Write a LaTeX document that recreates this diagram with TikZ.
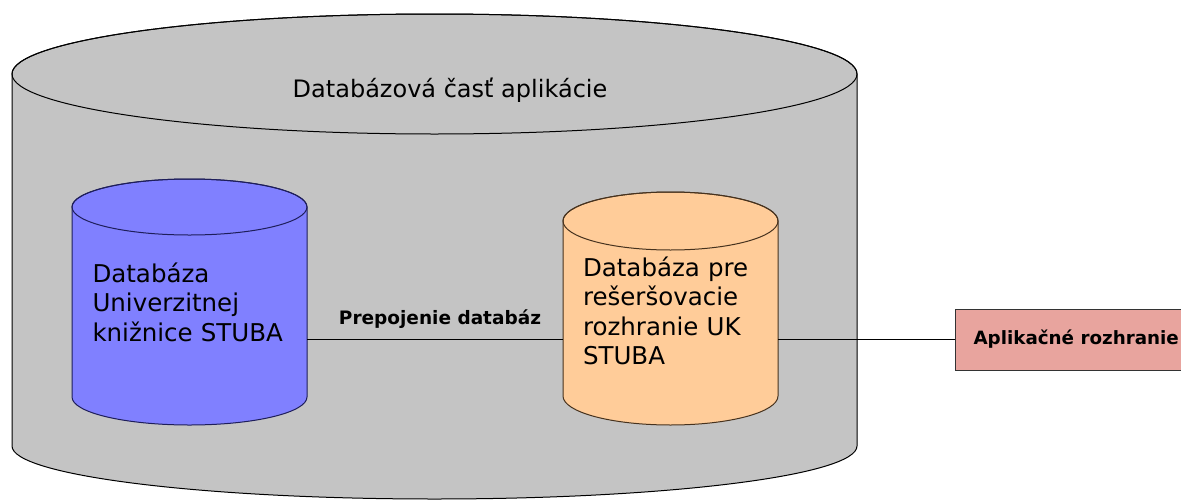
\documentclass[tikz,border=0pt]{standalone}
\usepackage{fontspec}
\setmainfont{DejaVu Sans}
\definecolor{cylgray}{RGB}{196,196,196}
\definecolor{ukblue}{RGB}{128,128,255}
\definecolor{ukedge}{RGB}{30,30,90}
\definecolor{resorange}{RGB}{255,204,153}
\definecolor{resedge}{RGB}{70,50,30}
\definecolor{apppink}{RGB}{232,164,158}
\tikzset{
  cylline/.style={draw=black, line width=1pt},
  dbtext/.style={align=left, font=\fontsize{24.5}{29.5}\selectfont, inner ysep=0pt},
  titletext/.style={font=\fontsize{24}{28}\selectfont},
  linklabel/.style={font=\bfseries\fontsize{18.5}{22}\selectfont},
  link/.style={draw=black, line width=0.9pt},
  appbox/.style={draw=black!80, line width=1pt, fill=apppink, font=\bfseries\fontsize{18.3}{22}\selectfont, inner xsep=18pt, minimum height=61pt}
}
\begin{document}
\begin{tikzpicture}[x=1pt,y=1pt]
\useasboundingbox (0,0) rectangle (1181,-501);
\clip (0,0) rectangle (1181,-501);

% outer cylinder
\draw[cylline, fill=cylgray] (12,-74) -- (12,-446) arc[start angle=180, end angle=360, x radius=422.5, y radius=53] -- (857,-74) arc[start angle=0, end angle=180, x radius=422.5, y radius=60] -- cycle;
\draw[cylline] (434.5,-74) ellipse[x radius=422.5, y radius=60];
\node[titletext, anchor=base] (title) at (450,-97) {Databázová časť aplikácie};

% UK database
\draw[cylline, draw=ukedge, fill=ukblue] (72,-207) -- (72,-397) arc[start angle=180, end angle=360, x radius=117.5, y radius=28] -- (307,-207) arc[start angle=0, end angle=180, x radius=117.5, y radius=28] -- cycle;
\draw[cylline, draw=ukedge] (189.5,-207) ellipse[x radius=117.5, y radius=28];
\node[dbtext, text width=194pt, inner xsep=20.5pt] (dbuk) at (189.5,-302) {Databáza\\Univerzitnej\\knižnice STUBA};

% search database
\draw[cylline, draw=resedge, fill=resorange] (563,-221) -- (563,-396) arc[start angle=180, end angle=360, x radius=107.5, y radius=29] -- (778,-221) arc[start angle=0, end angle=180, x radius=107.5, y radius=29] -- cycle;
\draw[cylline, draw=resedge] (670.5,-221) ellipse[x radius=107.5, y radius=29];
\node[dbtext, text width=175pt, inner xsep=20pt] (dbres) at (670.5,-311) {Databáza pre\\rešeršovacie\\rozhranie UK\\STUBA};

\node[appbox, anchor=west] (app) at (955,-339.5) {Aplikačné rozhranie};

\draw[link] (dbuk.east |- app.west) -- node[linklabel, above=7pt, xshift=5pt] {Prepojenie databáz} (dbres.west |- app.west);
\draw[link] (dbres.east |- app.west) -- (app.west);
\end{tikzpicture}
\end{document}
